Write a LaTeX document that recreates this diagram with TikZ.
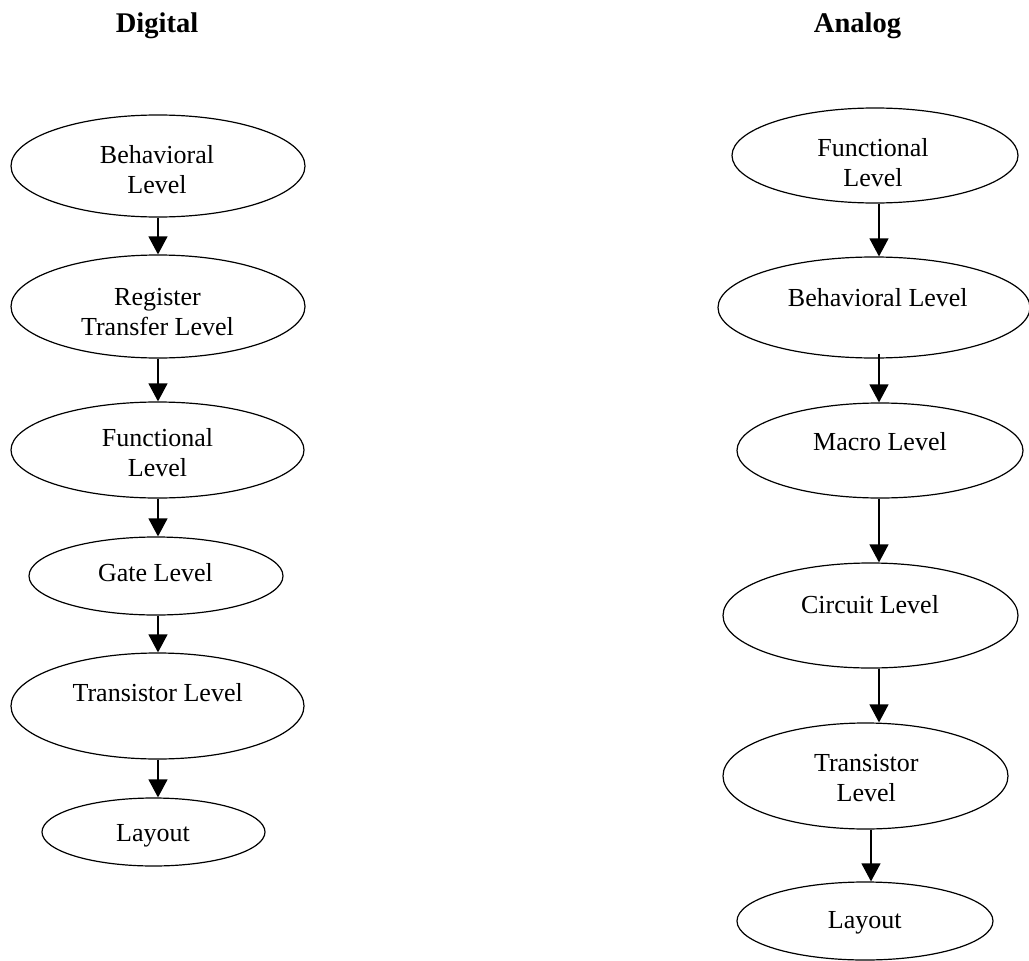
\documentclass[tikz,border=0pt]{standalone}
\usepackage{fontspec}
\setmainfont{Liberation Serif}
\usetikzlibrary{shapes.geometric,arrows.meta}
% two centred lines, the node's baseline being that of the second one
\newcommand\twolines[2]{\begin{tabular}[b]{@{}c@{}}#1\\#2\end{tabular}}
\begin{document}
\begin{tikzpicture}[x=1pt,y=-1pt,
  level/.style={draw,ellipse,line width=1.2pt,inner sep=0pt},
  lbl/.style={anchor=base,font=\fontsize{26}{30}\selectfont,inner sep=0pt},
  heading/.style={anchor=base,font=\fontsize{28.5}{32}\selectfont\bfseries,inner sep=0pt},
  flow/.style={line width=1.2pt,-{Triangle[length=18pt,width=19pt]}}]
\useasboundingbox (0,0) rectangle (1029,961);

% column headings
\node[heading] (hd) at (157,32) {Digital};
\node[heading] (ha) at (857.5,32) {Analog};

% vertical lines the connectors run along
\coordinate (lx) at (158,0);
\coordinate (rx) at (879,0);
\coordinate (rx2) at (871,0);

% digital flow
\node[level,minimum width=294pt,minimum height=102pt] (lB) at (158,166) {};
\node[level,minimum width=294pt,minimum height=103pt] (lR) at (158,306.5) {};
\node[level,minimum width=293pt,minimum height=96pt]  (lF) at (157.5,450) {};
\node[level,minimum width=254pt,minimum height=78pt]  (lG) at (156,576) {};
\node[level,minimum width=293pt,minimum height=106pt] (lT) at (157.5,706) {};
\node[level,minimum width=223pt,minimum height=68pt]  (lL) at (153.5,832) {};

\node[lbl] (lBt) at (157,193.5) {\twolines{Behavioral}{Level}};
\node[lbl] (lRt) at (157.5,335.5) {\twolines{Register}{Transfer Level}};
\node[lbl] (lFt) at (157.5,476.5) {\twolines{Functional}{Level}};
\node[lbl] (lGt) at (155.5,581.5) {Gate Level};
\node[lbl] (lTt) at (157.7,701.5) {Transistor Level};
\node[lbl] (lLt) at (153,841.5) {Layout};

\draw[flow] (lB.south -| lx) -- (lR.north -| lx);
\draw[flow] (lR.south -| lx) -- (lF.north -| lx);
\draw[flow] (lF.south -| lx) -- (lG.north -| lx);
\draw[flow] (lG.south -| lx) -- (lT.north -| lx);
\draw[flow] (lT.south -| lx) -- (lL.north -| lx);

% analog flow
\node[level,minimum width=286pt,minimum height=95pt]  (rF) at (875,155.5) {};
\node[level,minimum width=312pt,minimum height=101pt] (rB) at (874,307.5) {};
\node[level,minimum width=286pt,minimum height=95pt]  (rM) at (880,450.5) {};
\node[level,minimum width=295pt,minimum height=105pt] (rC) at (870.5,615.5) {};
\node[level,minimum width=285pt,minimum height=106pt] (rT) at (865.5,776) {};
\node[level,minimum width=256pt,minimum height=78pt]  (rL) at (865,921) {};

\node[lbl] (rFt) at (873,186.5) {\twolines{Functional}{Level}};
\node[lbl] (rBt) at (877.8,306.5) {Behavioral Level};
\node[lbl] (rMt) at (880,450.5) {Macro Level};
\node[lbl] (rCt) at (870,613.5) {Circuit Level};
\node[lbl] (rTt) at (866.3,801.5) {\twolines{Transistor}{Level}};
\node[lbl] (rLt) at (864.7,928.5) {Layout};

\draw[flow] (rF.south -| rx) -- (rB.north -| rx);
\draw[flow] ([yshift=5pt]rB.south -| rx) -- (rM.north -| rx);
\draw[flow] (rM.south -| rx) -- (rC.north -| rx);
\draw[flow] (rC.south -| rx) -- (rT.north -| rx);
\draw[flow] (rT.south -| rx2) -- (rL.north -| rx2);
\end{tikzpicture}
\end{document}
